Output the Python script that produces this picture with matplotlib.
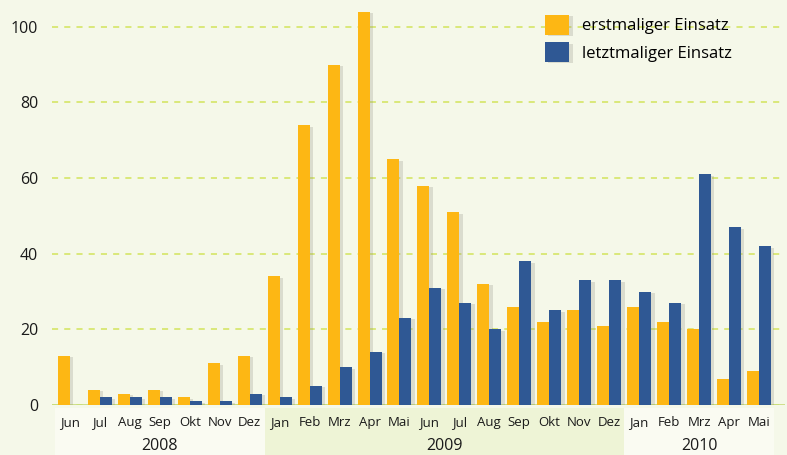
import numpy as np
import matplotlib.pyplot as plt
from matplotlib import patheffects
from matplotlib.patches import Rectangle, Patch
from matplotlib.transforms import blended_transform_factory

plt.rcParams['font.family'] = ['Open Sans', 'DejaVu Sans']

months = ['Jun', 'Jul', 'Aug', 'Sep', 'Okt', 'Nov', 'Dez',
          'Jan', 'Feb', 'Mrz', 'Apr', 'Mai', 'Jun', 'Jul', 'Aug', 'Sep', 'Okt', 'Nov', 'Dez',
          'Jan', 'Feb', 'Mrz', 'Apr', 'Mai']
years = ['2008', '2009', '2010']
year_spans = [(0, 6), (7, 18), (19, 23)]
erstmalig = [13, 4, 3, 4, 2, 11, 13, 34, 74, 90, 104, 65, 58, 51, 32, 26, 22, 25, 21, 26, 22, 20, 7, 9]
letztmalig = [0, 2, 2, 2, 1, 1, 3, 2, 5, 10, 14, 23, 31, 27, 20, 38, 25, 33, 33, 30, 27, 61, 47, 42]
labels = ['erstmaliger Einsatz', 'letztmaliger Einsatz']

c_yellow = '#FDB714'
c_blue = '#2F5894'
bg = '#F5F8E9'

fig = plt.figure(figsize=(7.87, 4.55), dpi=100, facecolor=bg)
ax = fig.add_axes([52 / 787, 50 / 455, 733 / 787, 405 / 455])
ax.set_facecolor(bg)

x = np.arange(len(months))
w = 0.4
shadow = [patheffects.withSimplePatchShadow(offset=(2.5, -1), shadow_rgbFace='#8a8a80', alpha=0.25)]
b1 = ax.bar(x - w / 2, erstmalig, w, color=c_yellow, zorder=3)
b2 = ax.bar(x + w / 2, letztmalig, w, color=c_blue, zorder=3)
for b in list(b1) + list(b2):
    b.set_path_effects(shadow)

ax.set_xlim(-0.6, 23.87)
ax.set_ylim(0, 107.1)
ax.set_yticks([0, 20, 40, 60, 80, 100])
ax.yaxis.grid(True, linestyle=(0, (4, 4)), color='#D3E45C', linewidth=1.1, zorder=0)
ax.axhline(0, color='#C9DC7A', linewidth=1.2, zorder=2)
ax.tick_params(axis='y', length=0, labelsize=11.5, pad=10, colors='#1a1a1a')
ax.tick_params(axis='x', length=0, labelbottom=False)
for s in ax.spines.values():
    s.set_visible(False)

trans = blended_transform_factory(ax.transData, ax.transAxes)
band_colors = ['#FAFBF2', '#EEF4D6', '#FAFBF2']
for (a, b), yr, col in zip(year_spans, years, band_colors):
    left = max(a - 0.5, -0.6)
    right = min(b + 0.5, 23.7)
    ax.add_patch(Rectangle((left, -0.125), right - left, 0.118, transform=trans,
                           facecolor=col, edgecolor='none', clip_on=False, zorder=1))
    ax.text((a + b) / 2, -0.1, yr, transform=trans, ha='center', va='center',
            fontsize=11.5, color='#1a1a1a')
for xi, m in zip(x, months):
    ax.text(xi, -0.043, m, transform=trans, ha='center', va='center',
            fontsize=9.5, color='#1a1a1a')

handles = [Patch(facecolor=c_yellow), Patch(facecolor=c_blue)]
leg = ax.legend(handles, labels, loc='upper left', bbox_to_anchor=(530 / 787, 1.0),
                bbox_transform=fig.transFigure, frameon=False, fontsize=12,
                handlelength=1.45, handleheight=1.45, handletextpad=0.75, labelspacing=0.45)
for h in leg.legend_handles:
    h.set_path_effects(shadow)

fig.savefig('out.png', dpi=100, facecolor=bg)
